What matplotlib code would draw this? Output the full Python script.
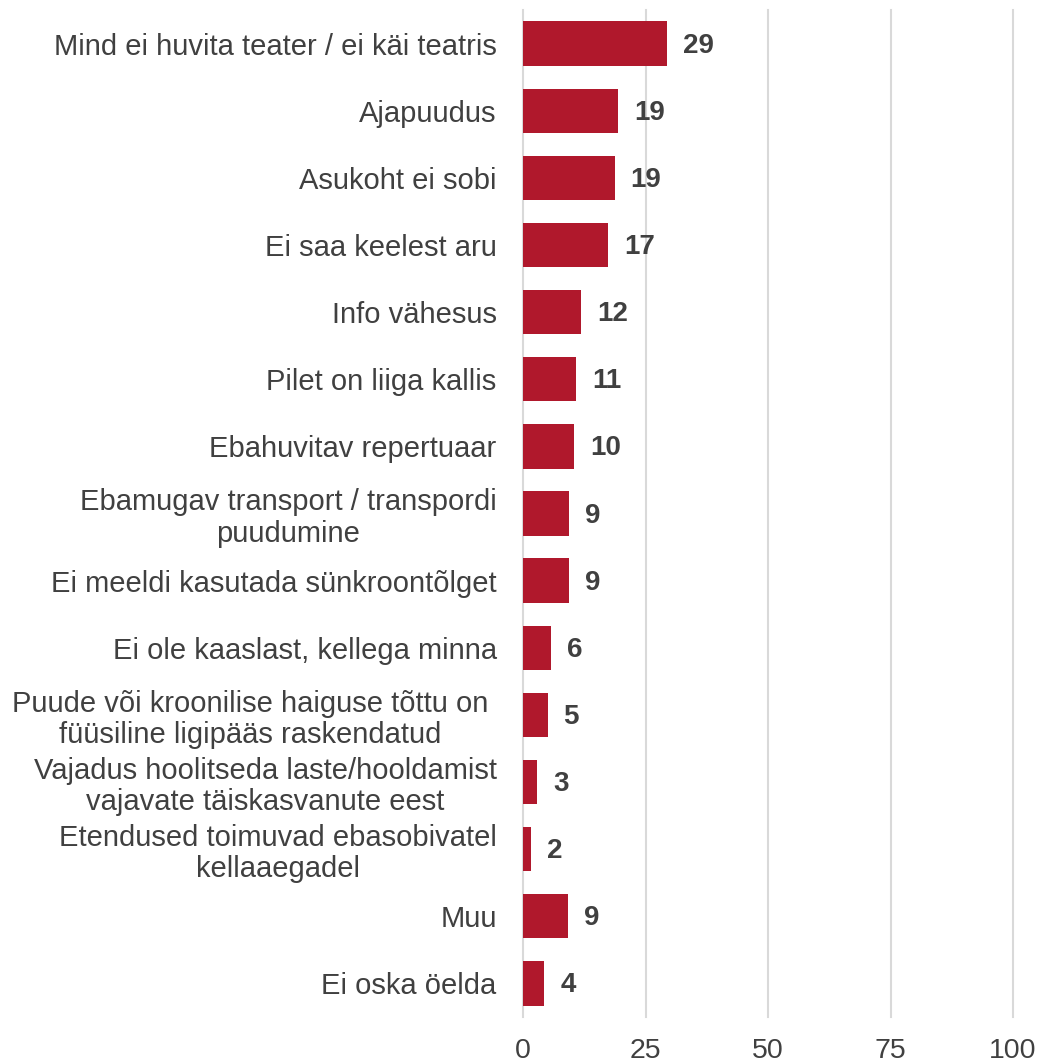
import matplotlib.pyplot as plt
import numpy as np

plt.rcParams['font.family'] = ['Liberation Sans', 'DejaVu Sans']

# categories, top to bottom
categories = [
    'Mind ei huvita teater / ei käi teatris',
    'Ajapuudus',
    'Asukoht ei sobi',
    'Ei saa keelest aru',
    'Info vähesus',
    'Pilet on liiga kallis',
    'Ebahuvitav repertuaar',
    'Ebamugav transport / transpordi\npuudumine',
    'Ei meeldi kasutada sünkroontõlget',
    'Ei ole kaaslast, kellega minna',
    'Puude või kroonilise haiguse tõttu on \nfüüsiline ligipääs raskendatud ',
    'Vajadus hoolitseda laste/hooldamist\nvajavate täiskasvanute eest',
    'Etendused toimuvad ebasobivatel\nkellaaegadel',
    'Muu',
    'Ei oska öelda',
]
values = [29.4, 19.4, 18.7, 17.4, 11.9, 10.8, 10.4, 9.4, 9.3, 5.7, 5.0, 2.9, 1.6, 9.1, 4.3]
xticks = [0, 25, 50, 75, 100]

bar_color = '#b0182c'
text_color = '#404040'
grid_color = '#d9d9d9'

fig = plt.figure(figsize=(10.4, 10.64), dpi=100)
ax = fig.add_axes([0.503, 0.0442, 0.471, 0.9464])

y = np.arange(len(categories))
ax.barh(y, values, height=0.66, color=bar_color, zorder=3)

for yi, v in zip(y, values):
    ax.annotate(f'{v:.0f}', (v, yi), xytext=(11.5, -1.5), textcoords='offset points',
                ha='left', va='center', fontsize=20, fontweight='bold', color=text_color)

ax.set_ylim(len(categories) - 0.5, -0.5)
ax.set_xlim(0, 100)
ax.set_xticks(xticks)
ax.set_yticks(y)
ax.set_yticklabels(categories, fontsize=21, color=text_color, multialignment='center',
                   linespacing=1.15)
ax.tick_params(axis='x', length=0, pad=15, labelsize=20.5, labelcolor=text_color)
ax.tick_params(axis='y', length=0, pad=19)

ax.grid(axis='x', color=grid_color, linewidth=1.5, zorder=0)
for line in ax.get_xgridlines():
    line.set_clip_on(False)
for s in ax.spines.values():
    s.set_visible(False)

fig.savefig('out.png', dpi=100)
